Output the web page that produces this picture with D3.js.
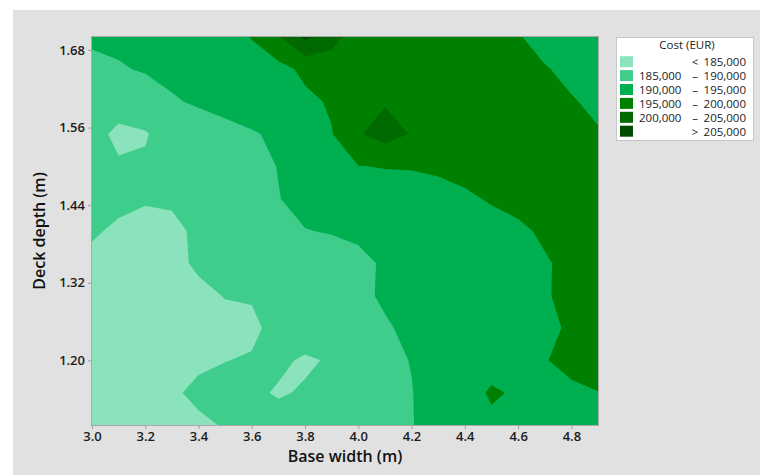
<!DOCTYPE html>
<html>
<head>
<meta charset="utf-8">
<script src="https://cdn.jsdelivr.net/npm/d3@7"></script>
<style>
  body { margin: 0; background: #ffffff; }
  svg { display: block; font-family: "Open Sans", "Noto Sans", sans-serif; }
</style>
</head>
<body>
<svg id="chart" width="760" height="475"></svg>
<script>
// Grid of the surface: base width (columns) by deck depth (rows, top to bottom)
const baseWidths = [3.0, 3.1, 3.2, 3.3, 3.4, 3.5, 3.6, 3.7, 3.8, 3.9,
                    4.0, 4.1, 4.2, 4.3, 4.4, 4.5, 4.6, 4.7, 4.8, 4.9];
const deckDepths = [1.70, 1.65, 1.60, 1.55, 1.50, 1.45, 1.40,
                    1.35, 1.30, 1.25, 1.20, 1.15, 1.10];

// Cost in thousand EUR, one row per deck depth
const costK = [
  [190.5, 191.0, 191.5, 192.0, 192.5, 193.0, 195.2, 199.5, 206.0, 202.0, 197.0, 197.5, 198.0, 198.0, 197.5, 196.5, 195.3, 193.5, 192.0, 191.0],
  [189.2, 189.6, 190.4, 191.0, 191.8, 192.5, 193.0, 193.5, 196.0, 197.0, 197.5, 198.0, 198.3, 198.3, 198.0, 197.3, 196.3, 195.3, 194.0, 193.0],
  [187.0, 187.5, 187.5, 189.6, 190.5, 191.5, 192.5, 193.3, 194.0, 195.5, 197.5, 199.6, 199.0, 198.6, 198.3, 197.8, 197.0, 196.2, 195.3, 194.2],
  [186.8, 183.8, 184.7, 186.8, 187.8, 188.6, 189.6, 190.8, 192.5, 194.8, 199.6, 202.0, 199.7, 199.0, 198.6, 198.2, 197.6, 196.8, 196.0, 195.3],
  [186.0, 185.6, 185.5, 187.0, 187.8, 188.4, 189.0, 190.1, 191.5, 193.5, 194.9, 195.2, 195.3, 195.6, 196.0, 196.5, 197.0, 197.3, 197.3, 197.0],
  [185.6, 185.6, 185.2, 185.3, 186.5, 187.5, 188.7, 189.9, 191.0, 192.0, 192.5, 192.7, 193.0, 193.7, 194.5, 195.3, 196.0, 196.8, 197.3, 197.6],
  [185.3, 184.6, 184.3, 184.5, 185.4, 186.8, 187.9, 189.0, 189.9, 190.2, 190.8, 191.4, 192.0, 192.6, 193.2, 193.8, 194.4, 195.5, 196.5, 197.3],
  [184.4, 184.0, 183.8, 184.3, 185.4, 186.5, 187.3, 187.9, 188.4, 188.5, 189.0, 190.5, 191.5, 192.3, 193.0, 193.6, 194.2, 194.7, 195.8, 196.8],
  [183.5, 183.3, 183.3, 183.8, 184.4, 185.1, 185.2, 187.0, 187.7, 188.3, 189.2, 190.5, 191.6, 192.5, 193.2, 193.8, 194.3, 194.8, 195.6, 196.5],
  [183.0, 182.8, 182.8, 183.2, 183.8, 184.2, 184.5, 185.8, 186.8, 187.8, 188.8, 189.6, 190.8, 191.8, 192.6, 193.3, 193.9, 194.5, 195.3, 196.2],
  [182.8, 182.6, 182.8, 183.5, 184.5, 184.95, 185.2, 185.6, 184.6, 185.3, 187.5, 189.3, 190.1, 191.2, 192.3, 193.4, 194.3, 194.9, 195.6, 196.2],
  [182.8, 182.7, 183.3, 184.6, 185.6, 185.8, 185.6, 184.7, 185.3, 186.5, 187.6, 189.0, 189.9, 191.5, 193.3, 195.5, 194.5, 194.3, 194.6, 194.95],
  [182.5, 182.5, 183.0, 183.8, 184.5, 185.2, 185.8, 186.3, 186.8, 187.5, 188.3, 189.1, 189.9, 191.0, 192.3, 194.2, 193.8, 194.0, 194.2, 194.4]
];

// Contour levels (thousand EUR), band colours and legend text
const costBreaks = [185, 190, 195, 200, 205];
const bandColors = ["#8ae3bc", "#3fcd8b", "#00b050", "#008000", "#006900", "#004c00"];
const bandLow  = ["",        "185,000", "190,000", "195,000", "200,000", ""];
const bandSign = ["<",       "\u2013",  "\u2013",  "\u2013",  "\u2013",  ">"];
const bandHigh = ["185,000", "190,000", "195,000", "200,000", "205,000", "205,000"];

const xTicks = [3.0, 3.2, 3.4, 3.6, 3.8, 4.0, 4.2, 4.4, 4.6, 4.8];
const yTicks = [1.20, 1.32, 1.44, 1.56, 1.68];
const xDomain = [3.0, 4.9];
const yDomain = [1.10, 1.70];

const svg = d3.select("#chart");
const plot = { left: 92, right: 598, top: 37, bottom: 425 };

// panel background
svg.append("rect").attr("x", 13).attr("y", 10).attr("width", 760 - 13).attr("height", 475 - 10)
  .attr("fill", "#e1e1e1");

const x = d3.scaleLinear().domain(xDomain).range([plot.left, plot.right]);
const y = d3.scaleLinear().domain(yDomain).range([plot.bottom, plot.top]);

const nx = baseWidths.length, ny = deckDepths.length;
// d3.contours places grid value (i, j) at (i + 0.5, j + 0.5)
const gridX = d3.scaleLinear().domain([0.5, nx - 0.5]).range([baseWidths[0], baseWidths[nx - 1]]);
const gridY = d3.scaleLinear().domain([0.5, ny - 0.5]).range([deckDepths[0], deckDepths[ny - 1]]);

const toScreen = d3.geoTransform({
  point(gx, gy) { this.stream.point(x(gridX(gx)), y(gridY(gy))); }
});
const path = d3.geoPath(toScreen);

const bands = d3.contours().size([nx, ny]).thresholds(costBreaks)(costK.flat());

svg.append("clipPath").attr("id", "plot-clip")
  .append("rect").attr("x", plot.left).attr("y", plot.top)
  .attr("width", plot.right - plot.left).attr("height", plot.bottom - plot.top);

const surface = svg.append("g").attr("clip-path", "url(#plot-clip)");
surface.append("rect").attr("x", plot.left).attr("y", plot.top)
  .attr("width", plot.right - plot.left).attr("height", plot.bottom - plot.top)
  .attr("fill", bandColors[0]);
surface.selectAll("path.band").data(bands).join("path")
  .attr("class", "band")
  .attr("d", path)
  .attr("fill", (d, i) => bandColors[i + 1]);

// plot frame
svg.append("rect").attr("x", plot.left - 0.5).attr("y", plot.top - 0.5)
  .attr("width", plot.right - plot.left + 1).attr("height", plot.bottom - plot.top + 1)
  .attr("fill", "none").attr("stroke", "#a9a9a9").attr("stroke-width", 1);

// axes
const xAxis = svg.append("g").attr("transform", `translate(0,${plot.bottom})`)
  .call(d3.axisBottom(x).tickValues(xTicks).tickFormat(d3.format(".1f")).tickSize(4).tickPadding(3));
const yAxis = svg.append("g").attr("transform", `translate(${plot.left},0)`)
  .call(d3.axisLeft(y).tickValues(yTicks).tickFormat(d3.format(".2f")).tickSize(4).tickPadding(3));
[xAxis, yAxis].forEach(a => {
  a.select(".domain").remove();
  a.selectAll(".tick line").attr("stroke", "#a0a0a0");
  a.selectAll(".tick text").attr("fill", "#1c1c1c").attr("font-size", 13)
    .attr("font-weight", 600).attr("font-family", "'Open Sans', sans-serif");
});

// axis titles
svg.append("text").attr("x", (plot.left + plot.right) / 2).attr("y", 462)
  .attr("text-anchor", "middle").attr("font-size", 16).attr("font-weight", 600)
  .attr("fill", "#111").text("Base width (m)");
svg.append("text").attr("transform", `translate(45,${(plot.top + plot.bottom) / 2}) rotate(-90)`)
  .attr("text-anchor", "middle").attr("font-size", 16).attr("font-weight", 600)
  .attr("fill", "#111").text("Deck depth (m)");

// legend
const legend = svg.append("g");
legend.append("rect").attr("x", 616.5).attr("y", 37.5).attr("width", 137).attr("height", 103)
  .attr("fill", "#ffffff").attr("stroke", "#c6c6c6");
legend.append("text").attr("x", 687).attr("y", 49).attr("text-anchor", "middle")
  .attr("font-size", 11.5).attr("fill", "#1c1c1c").text("Cost (EUR)");
const rows = legend.selectAll("g.row").data(bandColors).join("g")
  .attr("class", "row")
  .attr("transform", (d, i) => `translate(0,${61.7 + i * 13.9})`);
rows.append("rect").attr("x", 620).attr("y", -5.5).attr("width", 13).attr("height", 11)
  .attr("fill", d => d);
rows.append("text").attr("x", 639).attr("y", 4.5).attr("font-size", 11.5).attr("fill", "#1c1c1c")
  .text((d, i) => bandLow[i]);
rows.append("text").attr("x", 695).attr("y", 4.5).attr("font-size", 11.5).attr("fill", "#1c1c1c")
  .attr("text-anchor", "middle").text((d, i) => bandSign[i]);
rows.append("text").attr("x", 746).attr("y", 4.5).attr("font-size", 11.5).attr("fill", "#1c1c1c")
  .attr("text-anchor", "end").text((d, i) => bandHigh[i]);
</script>
</body>
</html>
